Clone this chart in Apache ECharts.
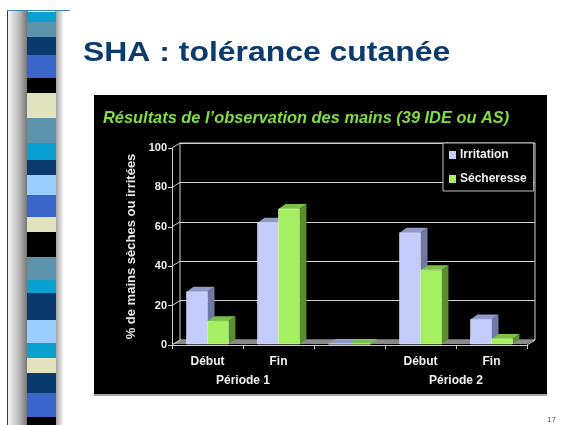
<!DOCTYPE html>
<html>
<head>
<meta charset="utf-8">
<script src="https://cdn.jsdelivr.net/npm/echarts@6/dist/echarts.min.js"></script>
<style>
  html, body { margin: 0; padding: 0; background: #fff; }
  #main { width: 561px; height: 425px; }
</style>
</head>
<body>
<div id="main"></div>
<script>
// données (%)
const categories = ['Début', 'Fin', '', 'Début', 'Fin'];
const periods = ['Période 1', 'Période 2'];
const periodAt = [2, 8]; // en demi-catégories : entre Début et Fin
const irritation = [27, 62, 0, 57, 13];
const secheresse = [12, 69, 0, 38, 3];
const yTicks = [0, 20, 40, 60, 80, 100];

// bande décorative à gauche de la diapo
const stripStops = [12, 22, 37, 55, 78, 93, 118, 143, 160, 175, 195, 217, 232, 257, 280, 293, 320, 343, 358, 373, 393, 417, 425];
const stripColors = ['#0aa0d0', '#5b93ad', '#0a3a6e', '#3a66cc', '#000000', '#e2e2bc', '#5b93ad', '#0aa0d0',
  '#0a3a6e', '#99ccff', '#3a66cc', '#e2e2bc', '#000000', '#5b93ad', '#0aa0d0', '#0a3a6e',
  '#99ccff', '#0aa0d0', '#e2e2bc', '#0a3a6e', '#3a66cc', '#000000'];

const FONT = '"Liberation Sans", Arial, sans-serif';
const DX = 8, DY = 5;     // profondeur du mur
const BX = 7, BY = 5;     // profondeur des barres

const myChart = echarts.init(document.getElementById('main'));

// barre "3D" : face avant, côté, dessus
function bar3d(faces, side) {
    return function (params, api) {
        const cat = api.value(0), val = api.value(1);
        const base = api.coord([cat, 0]);
        const top = api.coord([cat, val]);
        const w = api.size([1, 0])[0] * 0.295;
        const x0 = side < 0 ? base[0] - w : base[0];
        const x1 = x0 + w;
        const yb = base[1] - 1, yt = Math.min(top[1], yb);
        return {
            type: 'group',
            children: [
                { type: 'polygon', shape: { points: [[x1, yb], [x1 + BX, yb - BY], [x1 + BX, yt - BY], [x1, yt]] }, style: { fill: faces.side } },
                { type: 'polygon', shape: { points: [[x0, yt], [x1, yt], [x1 + BX, yt - BY], [x0 + BX, yt - BY]] }, style: { fill: faces.top } },
                { type: 'rect', shape: { x: x0, y: yt, width: w, height: yb - yt }, style: { fill: faces.front, stroke: faces.edge, lineWidth: 0.6 } }
            ]
        };
    };
}

// sol + raccords du mur gauche
function floorItem(params, api) {
    const cs = params.coordSys;
    const x0 = cs.x, x1 = cs.x + cs.width;
    const y0 = api.coord([0, 0])[1];
    const children = [
        { type: 'polygon', shape: { points: [[x0, y0 - 1], [x1, y0 - 1], [x1 + DX, y0 - DY], [x0 + DX, y0 - DY]] }, style: { fill: '#8a8a8a' } },
        { type: 'line', shape: { x1: x1, y1: y0, x2: x1 + DX, y2: y0 - DY }, style: { stroke: '#d0d0d0', lineWidth: 1 } }
    ];
    yTicks.forEach(function (v) {
        const y = api.coord([0, v])[1];
        children.push({ type: 'line', shape: { x1: x0, y1: y, x2: x0 + DX, y2: y - DY }, style: { stroke: '#d0d0d0', lineWidth: 1 } });
    });
    return { type: 'group', children: children };
}

const graphics = [];
// ombre grise de la bande
graphics.push({
    type: 'rect', shape: { x: 8, y: 11, width: 20, height: 414 }, z: -10,
    style: { fill: new echarts.graphic.LinearGradient(0, 0, 1, 0, [{ offset: 0, color: '#f6f6f6' }, { offset: 0.6, color: '#b4b4b4' }, { offset: 1, color: '#6e6e6e' }]) }
});
graphics.push({
    type: 'rect', shape: { x: 55, y: 11, width: 9, height: 414 }, z: -10,
    style: { fill: new echarts.graphic.LinearGradient(0, 0, 1, 0, [{ offset: 0, color: '#9a9a9a' }, { offset: 1, color: '#ffffff' }]) }
});
stripColors.forEach(function (c, i) {
    graphics.push({ type: 'rect', z: -9, shape: { x: 27, y: stripStops[i], width: 29, height: stripStops[i + 1] - stripStops[i] }, style: { fill: c } });
});
graphics.push(
    { type: 'line', z: -8, shape: { x1: 7.5, y1: 10, x2: 7.5, y2: 425 }, style: { stroke: '#3a3a3a', lineWidth: 1 } },
    { type: 'line', z: -8, shape: { x1: 7, y1: 10.5, x2: 70, y2: 10.5 }, style: { stroke: '#3f86b8', lineWidth: 1 } },
    { type: 'text', z: -8, x: 83, y: 53, scaleX: 1.14, style: { x: 0, y: 0, text: 'SHA : tolérance cutanée', font: 'bold 28px ' + FONT, fill: '#0d3a6c', verticalAlign: 'middle' } },
    { type: 'rect', z: -20, shape: { x: 94, y: 95, width: 453, height: 299 }, style: { fill: '#000000' } },
    { type: 'line', z: -20, shape: { x1: 94, y1: 395, x2: 547, y2: 395 }, style: { stroke: '#a8a8a8', lineWidth: 2 } },
    { type: 'text', z: -8, style: { x: 547, y: 420, text: '17', font: '8px ' + FONT, fill: '#555555', verticalAlign: 'middle' } }
);

const axisText = { color: '#f0f0f0', fontWeight: 'bold', fontFamily: FONT };

const option = {
    animation: false,
    backgroundColor: '#ffffff',
    graphic: graphics,
    title: {
        text: 'Résultats de l\u2019observation des mains (39 IDE ou AS)',
        left: 103, top: 110, padding: 0,
        textStyle: { color: '#80dc42', fontStyle: 'italic', fontWeight: 'bold', fontSize: 16.4, fontFamily: FONT }
    },
    legend: {
        data: ['Irritation', 'Sécheresse'],
        orient: 'vertical',
        left: 443, top: 143,
        padding: [6, 7, 6, 6],
        itemGap: 12,
        itemWidth: 7, itemHeight: 8,
        icon: 'rect',
        backgroundColor: '#000000',
        borderColor: '#c0c0c0', borderWidth: 1,
        textStyle: { color: '#f0f0f0', fontWeight: 'bold', fontSize: 12, fontFamily: FONT, padding: [0, 0, 0, -1] }
    },
    grid: [
        { left: 172, top: 148, width: 355, height: 197 },
        { left: 180, top: 143, width: 355, height: 197, show: true, borderColor: '#d0d0d0', borderWidth: 1, backgroundColor: 'transparent' }
    ],
    xAxis: [
        {
            type: 'category', gridIndex: 0, data: categories,
            axisLine: { lineStyle: { color: '#d0d0d0', width: 1 } },
            axisTick: { show: true, interval: 0, length: 4, lineStyle: { color: '#d0d0d0' } },
            axisLabel: Object.assign({ fontSize: 12, margin: 11, interval: 0 }, axisText),
            splitLine: { show: false }
        },
        {
            type: 'value', gridIndex: 0, min: 0, max: 10, interval: 1, position: 'bottom',
            axisLine: { show: false }, axisTick: { show: false }, splitLine: { show: false },
            axisLabel: Object.assign({
                fontSize: 12, margin: 30,
                formatter: function (v) { const k = periodAt.indexOf(v); return k >= 0 ? periods[k] : ''; }
            }, axisText)
        },
        { type: 'category', gridIndex: 1, data: categories, show: false }
    ],
    yAxis: [
        {
            type: 'value', gridIndex: 0, min: 0, max: 100, interval: 20,
            name: '% de mains sèches ou irritées',
            nameLocation: 'middle', nameGap: 27, nameRotate: 90,
            nameTextStyle: { color: '#e6e6e6', fontWeight: 'bold', fontSize: 13, fontFamily: FONT },
            axisLine: { show: true, lineStyle: { color: '#d0d0d0', width: 1 } },
            axisTick: { show: true, length: 4, lineStyle: { color: '#d0d0d0' } },
            axisLabel: Object.assign({ fontSize: 11, margin: 5 }, axisText),
            splitLine: { show: false }
        },
        {
            type: 'value', gridIndex: 1, min: 0, max: 100, interval: 20,
            axisLine: { show: false }, axisTick: { show: false }, axisLabel: { show: false },
            splitLine: { show: true, lineStyle: { color: '#d0d0d0', width: 1 } }
        }
    ],
    series: [
        {
            name: 'sol', type: 'custom', xAxisIndex: 0, yAxisIndex: 0,
            data: [[0, 0]], renderItem: floorItem, silent: true
        },
        {
            name: 'Irritation', type: 'custom', xAxisIndex: 0, yAxisIndex: 0,
            itemStyle: { color: '#c4ccfc' },
            data: irritation.map(function (v, i) { return [i, v]; }),
            encode: { x: 0, y: 1 },
            renderItem: bar3d({ front: '#c4ccfc', side: '#6e7aa4', top: '#8f9ac8', edge: '#e4e8ff' }, -1)
        },
        {
            name: 'Sécheresse', type: 'custom', xAxisIndex: 0, yAxisIndex: 0,
            itemStyle: { color: '#a4f062' },
            data: secheresse.map(function (v, i) { return [i, v]; }),
            encode: { x: 0, y: 1 },
            renderItem: bar3d({ front: '#a4f062', side: '#5a8c30', top: '#7cc04a', edge: '#d6ffb0' }, 1)
        }
    ]
};
option && myChart.setOption(option);
</script>
</body>
</html>
